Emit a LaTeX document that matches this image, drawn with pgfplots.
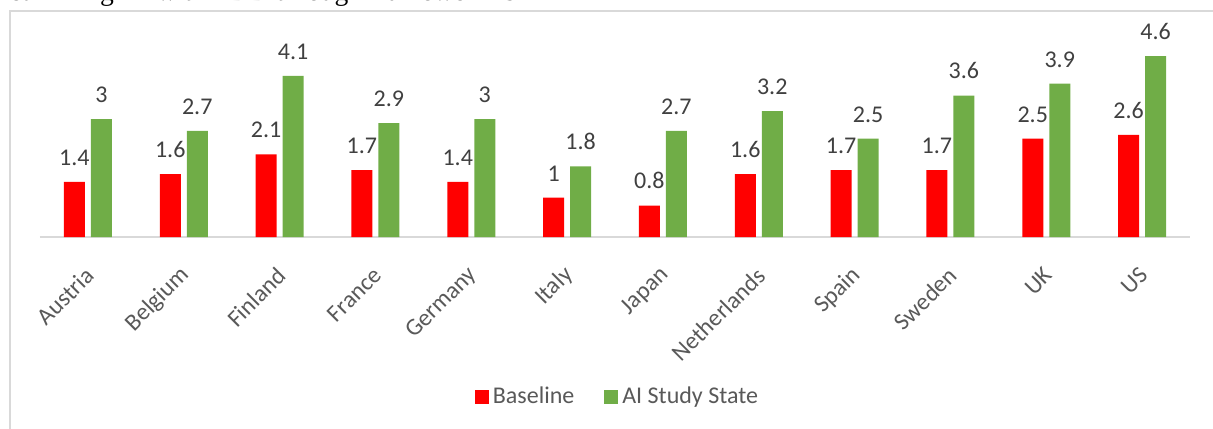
\documentclass[border=0pt]{standalone}
\usepackage{pgfplots}
\pgfplotsset{compat=1.18}
\usepackage{fontspec}
\setmainfont{Carlito}
\newfontfamily\seriffont{Liberation Serif}
\definecolor{cred}{HTML}{FF0000}
\definecolor{cgreen}{HTML}{70AD47}
\definecolor{tickgray}{HTML}{595959}
\definecolor{labgray}{HTML}{404040}
\definecolor{framegray}{HTML}{D9D9D9}
\begin{document}
\begin{tikzpicture}
\useasboundingbox (0,0) rectangle (606.5pt,214pt);
\node[anchor=base west, inner sep=0pt, font=\seriffont\fontsize{13.8}{15}\selectfont] at (0pt,213.6pt) {rethinking AI with EDD through framework is};
\draw[framegray, line width=1pt] (5pt,-10pt) -- (5pt,208.5pt) -- (620pt,208.5pt);
\begin{axis}[
  at={(20pt,95.5pt)}, anchor=south west,
  width=575pt, height=98.25pt, scale only axis,
  xmin=-0.5, xmax=11.5, ymin=0, ymax=5,
  axis x line*=bottom, axis y line=none,
  x axis line style={draw=framegray, line width=1pt, -},
  xtick={0,...,11}, xtick style={draw=none},
  xticklabels={Austria,Belgium,Finland,France,Germany,Italy,Japan,Netherlands,Spain,Sweden,UK,US},
  xticklabel style={rotate=45, anchor=east, font=\fontsize{12}{14}\selectfont, text=tickgray, yshift=-10pt, xshift=-5pt},
  ytick=\empty,
  ybar, bar width=10.5pt,
  nodes near coords,
  /pgf/number format/assume math mode=true,
  nodes near coords style={font=\fontsize{12}{14}\selectfont, text=labgray, anchor=south, inner sep=0pt, yshift=8pt,
    /pgf/number format/assume math mode=true},
  legend columns=2,
  legend style={at={(0.503,-0.814)}, anchor=center, draw=none, font=\fontsize{12}{14}\selectfont, text=tickgray,
    /tikz/every even column/.append style={column sep=13pt}},
  legend image code/.code={\fill[#1] (0pt,-3.5pt) rectangle (7pt,3.5pt);},
]
\addplot[fill=cred, draw=none, bar shift=-6.75pt] coordinates {(0,1.4) (1,1.6) (2,2.1) (3,1.7) (4,1.4) (5,1) (6,0.8) (7,1.6) (8,1.7) (9,1.7) (10,2.5) (11,2.6)};
\addlegendentry{Baseline}
\addplot[fill=cgreen, draw=none, bar shift=6.75pt] coordinates {(0,3) (1,2.7) (2,4.1) (3,2.9) (4,3) (5,1.8) (6,2.7) (7,3.2) (8,2.5) (9,3.6) (10,3.9) (11,4.6)};
\addlegendentry{AI Study State}
\end{axis}
\end{tikzpicture}
\end{document}
